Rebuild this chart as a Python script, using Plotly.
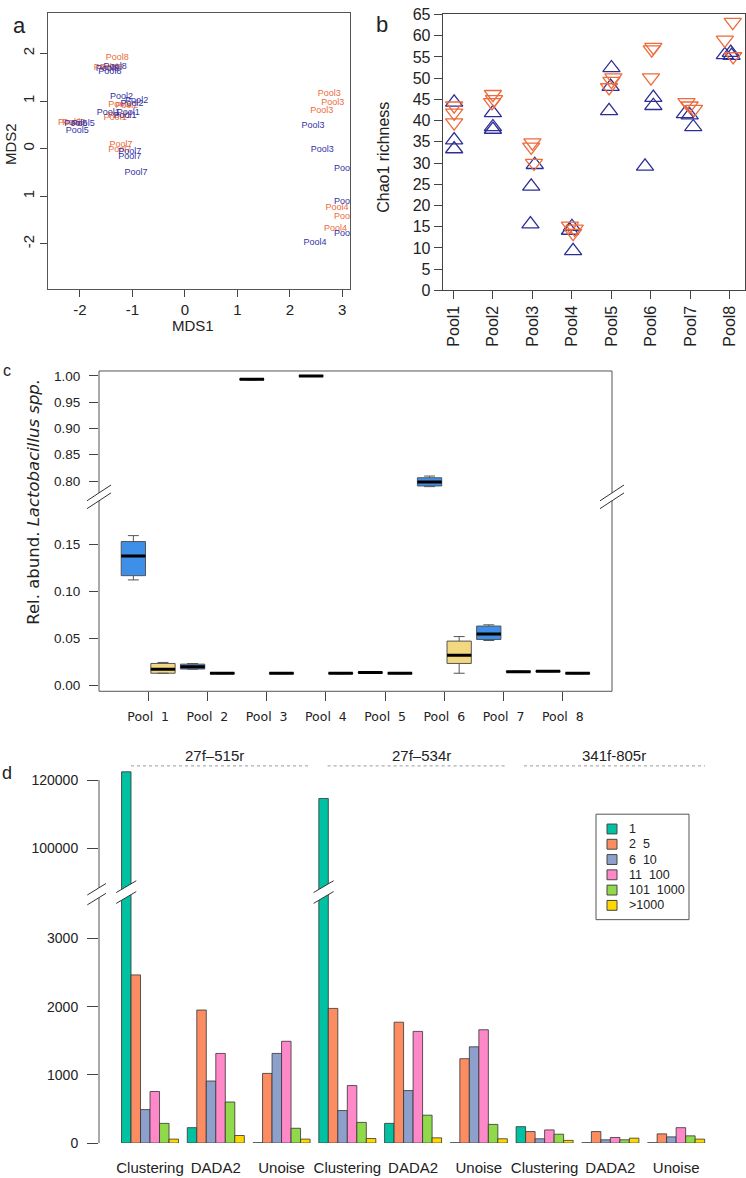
import plotly.graph_objects as go

W, H = 746, 1178
FONT = "Liberation Sans, Arial, sans-serif"
DJV = "DejaVu Sans, sans-serif"
ORANGE = "#EE6B3B"
BLUE = "#2E2E96"

# ---------------- data ----------------
# (a) MDS ordination labels
mds_orange_x = [-1.29, -1.52, -1.40, -1.24, -1.11, -1.33, -1.24, -2.20, -2.12, -1.22, -1.24,
                2.75, 2.82, 2.61, 2.90, 3.06, 2.87]
mds_orange_y = [1.90, 1.69, 1.69, 0.93, 0.90, 0.64, 0.70, 0.55, 0.54, 0.08, -0.03,
                1.16, 0.97, 0.80, -1.24, -1.43, -1.68]
mds_orange_lab = ["Pool8", "Pool8", "Pool8", "Pool2", "Pool2", "Pool1", "Pool1", "Pool5", "Pool5",
                  "Pool7", "Pool7", "Pool3", "Pool3", "Pool3", "Pool4", "Pool4", "Pool4"]
mds_blue_x = [-1.33, -1.43, -1.48, -1.21, -0.92, -1.01, -1.46, -1.08, -1.14, -1.94, -2.05, -2.08,
              -1.05, -1.05, -0.93, 2.44, 2.62, 3.06, 3.06, 3.06, 2.48]
mds_blue_y = [1.71, 1.61, 1.68, 1.09, 1.01, 0.94, 0.76, 0.75, 0.68, 0.52, 0.38, 0.52,
              -0.06, -0.17, -0.51, 0.47, -0.03, -0.43, -1.12, -1.78, -1.97]
mds_blue_lab = ["Pool8"] * 3 + ["Pool2"] * 3 + ["Pool1"] * 3 + ["Pool5"] * 3 + ["Pool7"] * 3 + \
               ["Pool3"] * 3 + ["Pool4"] * 3
mds_x_ticks = [-2, -1, 0, 1, 2, 3]
mds_x_text = ["-2", "-1", "0", "1", "2", "3"]
mds_y_ticks = [-2, -1, 0, 1, 2]
mds_y_text = ["-2", "1", "0", "1", "2"]

# (b) Chao1 richness
chao_pools = ["Pool1", "Pool2", "Pool3", "Pool4", "Pool5", "Pool6", "Pool7", "Pool8"]
chao_idx = [0, 0, 0, 1, 1, 1, 2, 2, 2, 3, 3, 3, 4, 4, 4, 5, 5, 5, 6, 6, 6, 7, 7, 7]
chao_blue = [44.3, 35.4, 33.3, 41.8, 38.5, 37.9, 29.6, 24.5, 15.6, 15.0, 14.1, 9.3,
             52.4, 48.0, 42.3, 45.4, 43.5, 29.2, 41.6, 41.3, 38.5, 56.0, 55.5, 55.3]
chao_blue_jit = [0.02, 0.02, 0.02, 0, 0, 0, 0.06, -0.03, -0.05, 0, -0.05, 0.03,
                 0, -0.02, -0.06, 0.06, 0.06, -0.15, -0.14, -0.02, 0.07, 0.02, -0.13, 0.04]
chao_orange = [43.5, 41.8, 39.5, 46.2, 45.0, 44.3, 34.8, 33.8, 30.0, 15.2, 14.5, 13.5,
               50.1, 49.3, 47.8, 57.3, 56.7, 50.1, 44.3, 43.5, 42.7, 63.2, 59.0, 55.1]
chao_orange_jit = [0.02, 0.02, 0.02, 0, 0.03, -0.02, 0, -0.03, 0.04, -0.05, 0.07, 0.03,
                   0.05, 0, -0.06, 0.06, 0.02, 0, -0.1, -0.02, 0.09, 0.07, -0.13, 0.08]

# (c) relative abundance of Lactobacillus (box statistics per pool)
abund_pools = ["Pool\u00a0\u00a01", "Pool\u00a0\u00a02", "Pool\u00a0\u00a03", "Pool\u00a0\u00a04",
               "Pool\u00a0\u00a05", "Pool\u00a0\u00a06", "Pool\u00a0\u00a07", "Pool\u00a0\u00a08"]
blue_lo = [0.1122, 0.0172, 0.9920, 0.9993, 0.0131, 0.7893, 0.0477, 0.0145]
blue_q1 = [0.1167, 0.0174, 0.9926, 0.9996, 0.0132, 0.7906, 0.0488, 0.0146]
blue_med = [0.1377, 0.0199, 0.9935, 1.0000, 0.0136, 0.7981, 0.0547, 0.0150]
blue_q3 = [0.1530, 0.0226, 0.9944, 1.0003, 0.0140, 0.8062, 0.0631, 0.0154]
blue_hi = [0.1593, 0.0232, 0.9950, 1.0005, 0.0141, 0.8094, 0.0644, 0.0155]
yel_lo = [0.0129, 0.0124, 0.0124, 0.0124, 0.0124, 0.0129, 0.0141, 0.0124]
yel_q1 = [0.0129, 0.0125, 0.0125, 0.0125, 0.0125, 0.0233, 0.0142, 0.0125]
yel_med = [0.0171, 0.0129, 0.0129, 0.0129, 0.0129, 0.0320, 0.0146, 0.0129]
yel_q3 = [0.0233, 0.0133, 0.0133, 0.0133, 0.0133, 0.0471, 0.0150, 0.0133]
yel_hi = [0.0244, 0.0134, 0.0134, 0.0134, 0.0134, 0.0519, 0.0151, 0.0134]

# (d) number of OTUs/ASVs by abundance class
methods = ["Clustering", "DADA2", "Unoise"] * 3
primers = ["27f\u2013515r", "27f\u2013534r", "341f-805r"]
classes = ["1", "2\u00a0\u00a05", "6\u00a0\u00a010", "11\u00a0\u00a0100", "101\u00a0\u00a01000", ">1000"]
n_1 = [122400, 226, 5, 114600, 289, 5, 241, 5, 5]
n_2_5 = [2465, 1950, 1021, 1974, 1772, 1237, 169, 169, 135]
n_6_10 = [491, 910, 1314, 477, 770, 1411, 63, 48, 91]
n_11_100 = [756, 1314, 1492, 843, 1637, 1661, 193, 82, 226]
n_101_1000 = [289, 602, 217, 303, 409, 274, 130, 48, 106]
n_gt1000 = [58, 111, 58, 67, 77, 63, 39, 72, 58]
class_counts = [n_1, n_2_5, n_6_10, n_11_100, n_101_1000, n_gt1000]
class_colors = ["#00C1A2", "#FC8D62", "#8DA0CB", "#FF88C8", "#8FD94A", "#FFD700"]


# ---------------- helpers ----------------
def px(x):
    return x / W


def py(y):
    return 1 - y / H


fig = go.Figure()

# ---- panel a ----
fig.add_trace(go.Scatter(x=mds_orange_x, y=mds_orange_y, text=mds_orange_lab, mode="text",
                         textfont=dict(color=ORANGE, size=9, family=FONT),
                         xaxis="x", yaxis="y", showlegend=False, hoverinfo="skip"))
fig.add_trace(go.Scatter(x=mds_blue_x, y=mds_blue_y, text=mds_blue_lab, mode="text",
                         textfont=dict(color="#3232A6", size=9, family=FONT),
                         xaxis="x", yaxis="y", showlegend=False, hoverinfo="skip"))

# ---- panel b ----
fig.add_trace(go.Scatter(x=[i + j for i, j in zip(chao_idx, chao_blue_jit)], y=chao_blue, mode="markers",
                         marker=dict(symbol="triangle-up-open", size=15, color=BLUE,
                                     line=dict(width=1.3, color=BLUE)),
                         xaxis="x2", yaxis="y2", showlegend=False, hoverinfo="skip"))
fig.add_trace(go.Scatter(x=[i + j for i, j in zip(chao_idx, chao_orange_jit)], y=chao_orange, mode="markers",
                         marker=dict(symbol="triangle-down-open", size=15, color=ORANGE,
                                     line=dict(width=1.3, color=ORANGE)),
                         xaxis="x2", yaxis="y2", showlegend=False, hoverinfo="skip"))

# ---- panel c ----
BOXW = 0.41
med_lines = {"y3": ([], []), "y4": ([], [])}
for k in range(len(abund_pools)):
    for (u, lo, q1, md, q3, hi, fill) in [
        (k - 0.25, blue_lo[k], blue_q1[k], blue_med[k], blue_q3[k], blue_hi[k], "#3D8FE8"),
        (k + 0.25, yel_lo[k], yel_q1[k], yel_med[k], yel_q3[k], yel_hi[k], "#F3D882"),
    ]:
        ax = "y4" if md > 0.5 else "y3"
        fig.add_trace(go.Box(x=[u], lowerfence=[lo], q1=[q1], median=[md], q3=[q3], upperfence=[hi],
                             width=BOXW, whiskerwidth=0.45, fillcolor=fill,
                             line=dict(color="#555555", width=1), boxpoints=False,
                             xaxis="x3", yaxis=ax, showlegend=False, hoverinfo="skip"))
        med_lines[ax][0].extend([u - BOXW / 2, u + BOXW / 2, None])
        med_lines[ax][1].extend([md, md, None])
for ax, (mx, my) in med_lines.items():
    fig.add_trace(go.Scatter(x=mx, y=my, mode="lines", line=dict(color="black", width=3),
                             xaxis="x3", yaxis=ax, showlegend=False, hoverinfo="skip"))

# ---- panel d ----
groups = list(range(len(methods)))
for ax in ("y5", "y6"):
    for cls, vals, col in zip(classes, class_counts, class_colors):
        fig.add_trace(go.Bar(x=groups, y=vals, name=cls,
                             marker=dict(color=col, line=dict(color="#333333", width=0.8)),
                             xaxis="x4", yaxis=ax, showlegend=False, hoverinfo="skip"))

# ---------------- layout ----------------
axis_common = dict(showgrid=False, zeroline=False, ticks="outside", tickcolor="#444444")

C_L, C_R, C_T, C_B, C_BRK = 99, 612, 368.3, 693.3, 497
D_L, D_R, D_T, D_B, D_BRK = 99, 741.9, 770, 1151.7, 898
c_lo_range = [-0.0063, 0.1995]
c_hi_range = [0.768, 1.0094]
d_xrange = [-0.776, 9.0]
d_lo_range = [0, 3665]
d_hi_range = [86926, 123838]

fig.update_layout(
    width=W, height=H, margin=dict(l=0, r=0, t=0, b=0),
    paper_bgcolor="white", plot_bgcolor="white",
    font=dict(family=FONT, color="#222222"),
    showlegend=False,
    barmode="group", bargap=0.133, bargroupgap=0,
    xaxis=dict(axis_common, domain=[px(48.3), px(350)], range=[-2.604, 3.147], anchor="y",
               tickvals=mds_x_ticks, ticktext=mds_x_text, ticklen=7, showline=True, mirror=True,
               linecolor="#555555", tickfont=dict(size=15)),
    yaxis=dict(axis_common, domain=[py(285), py(5)], range=[-2.946, 2.85], anchor="x",
               tickvals=mds_y_ticks, ticktext=mds_y_text, tickangle=-90, ticklen=7, showline=True,
               mirror=True, linecolor="#555555", tickfont=dict(size=15)),
    xaxis2=dict(axis_common, domain=[px(442.7), px(745)], range=[-0.27, 7.38], anchor="y2",
                tickvals=list(range(8)), ticktext=chao_pools, tickangle=-90, ticklen=8,
                showline=True, mirror=True, linecolor="#444444", tickfont=dict(size=16)),
    yaxis2=dict(axis_common, domain=[py(286.5), py(5.7)], range=[0, 65.2], anchor="x2",
                tickvals=list(range(0, 66, 5)), ticklen=8, showline=True, mirror=True,
                linecolor="#444444", tickfont=dict(size=16)),
    xaxis3=dict(axis_common, domain=[px(C_L), px(C_R)], range=[-0.83, 7.83], anchor="y3",
                tickvals=list(range(8)), ticktext=abund_pools, ticklen=9, showline=False,
                tickfont=dict(size=12.5, family=DJV), ticklabelstandoff=5),
    yaxis3=dict(axis_common, domain=[py(C_B), py(C_BRK)], range=c_lo_range, anchor="x3",
                tickvals=[0, 0.05, 0.10, 0.15], tickformat=".2f", ticklen=9, showline=False,
                tickfont=dict(size=13.5), ticklabelstandoff=6),
    yaxis4=dict(axis_common, domain=[py(C_BRK), py(C_T)], range=c_hi_range, anchor="x3",
                tickvals=[0.80, 0.85, 0.90, 0.95, 1.00], tickformat=".2f", ticklen=9, showline=False,
                tickfont=dict(size=13.5), ticklabelstandoff=6),
    xaxis4=dict(axis_common, domain=[px(D_L), px(D_R)], range=d_xrange, anchor="y5",
                tickvals=groups, ticktext=methods, ticks="", showline=False,
                tickfont=dict(size=15), ticklabelstandoff=14),
    yaxis5=dict(axis_common, domain=[py(D_B), py(D_BRK)], range=d_lo_range, anchor="x4",
                tickvals=[0, 1000, 2000, 3000], tickformat="d", ticklen=11, showline=False,
                tickfont=dict(size=14), ticklabelstandoff=6),
    yaxis6=dict(axis_common, domain=[py(D_BRK), py(D_T)], range=d_hi_range, anchor="x4",
                tickvals=[100000, 120000], tickformat="d", ticklen=11, showline=False,
                tickfont=dict(size=14), ticklabelstandoff=6),
)

# ---------------- annotations ----------------
ann = []


def text(x, y, s, size, angle=0, family=FONT, xanchor="center", color="#222222"):
    ann.append(dict(x=px(x), y=py(y), xref="paper", yref="paper", text=s, showarrow=False,
                    xanchor=xanchor, yanchor="middle", textangle=angle,
                    font=dict(size=size, family=family, color=color)))


text(19, 18, "a", 22)
text(381.7, 17, "b", 22)
text(1, 368, "c", 16, xanchor="left")
text(0, 776, "d", 18, xanchor="left")
text(192.7, 322, "MDS1", 15)
text(10, 138, "MDS2", 15, angle=-90)
text(383.3, 151.7, "Chao1 richness", 16, angle=-90)
text(34, 501, "Rel. abund. <i>Lactobacillus spp.</i>", 16.5, angle=-90, family=DJV)
for s, x in zip(primers, [214, 421, 614]):
    text(x, 758, s, 15)

# ---------------- shapes (frames, breaks, separators, legend) ----------------
shapes = []


def line(x0, y0, x1, y1, color="#555555", width=1, dash=None):
    d = dict(type="line", xref="paper", yref="paper", x0=px(x0), y0=py(y0), x1=px(x1), y1=py(y1),
             line=dict(color=color, width=width))
    if dash:
        d["line"]["dash"] = dash
    shapes.append(d)


def rect(x0, y0, x1, y1, fill, color="#444444", width=1):
    shapes.append(dict(type="rect", xref="paper", yref="paper", x0=px(x0), y0=py(y0), x1=px(x1),
                       y1=py(y1), fillcolor=fill, line=dict(color=color, width=width)))


# primer separator dotted lines
for x0, x1 in [(131, 309.5), (327.6, 507), (524, 705)]:
    line(x0, 769, x1, 769, color="#999999", dash="dot")

# panel c frame with axis break
line(C_L, C_T, C_R, C_T)
line(C_L, C_B, C_R, C_B)
for xe in (C_L, C_R):
    line(xe, C_T, xe, 492)
    line(xe, 500, xe, C_B)
    line(xe - 12, 500, xe + 12, 484, color="#333333")
    line(xe - 12, 508, xe + 12, 492, color="#333333")


def d_ypx_hi(v):
    return D_BRK - (v - d_hi_range[0]) / (d_hi_range[1] - d_hi_range[0]) * (D_BRK - D_T)


def d_xpx(u):
    return D_L + (u - d_xrange[0]) / (d_xrange[1] - d_xrange[0]) * (D_R - D_L)


# panel d left axis with break
line(D_L, d_ypx_hi(120000), D_L, 892.7)
line(D_L, 902.7, D_L, D_B)
line(D_L - 11.7, 900, D_L + 7, 888.3, color="#333333")
line(D_L - 11.7, 910, D_L + 7, 898.3, color="#333333")

# breaks across the tall bars
bw = (1 - 0.133) / len(classes)
for g, v in enumerate(n_1):
    if v > d_hi_range[0]:
        cx = d_xpx(g - (1 - 0.133) / 2 + bw / 2)
        x0, x1 = cx - 10, cx + 10
        path = "M{:.5f},{:.5f} L{:.5f},{:.5f} L{:.5f},{:.5f} L{:.5f},{:.5f} Z".format(
            px(x0), py(897.5), px(x1), py(885.5), px(x1), py(896.5), px(x0), py(908.5))
        shapes.append(dict(type="path", xref="paper", yref="paper", path=path,
                           fillcolor="white", line=dict(width=0)))
        line(x0, 897.5, x1, 885.5, color="#333333")
        line(x0, 908.5, x1, 896.5, color="#333333")

# legend for panel d (box, swatches, labels)
rect(596, 818, 689, 925, "white", color="#555555")
for i, (cls, col) in enumerate(zip(classes, class_colors)):
    yc = 833 + 15.5 * i
    rect(607, yc - 5, 617, yc + 5, col)
    ann.append(dict(x=px(627), y=py(yc), xref="paper", yref="paper", text=cls, showarrow=False,
                    xanchor="left", yanchor="middle", font=dict(size=12.5, family=FONT, color="#222222")))

fig.update_layout(shapes=shapes, annotations=ann)

fig.write_html("out.html", config={"displayModeBar": False},
               post_script="document.body.style.margin='0px';document.body.style.overflow='hidden';")
